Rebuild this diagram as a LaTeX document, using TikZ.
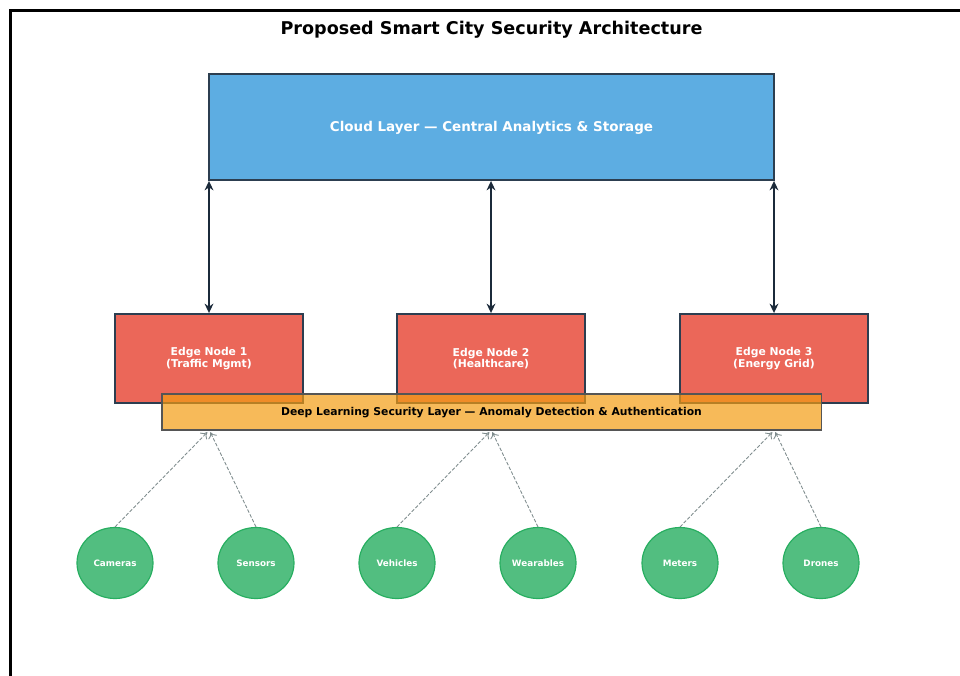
\documentclass[tikz,border=0pt]{standalone}
\usepackage{fontspec}
\setmainfont{DejaVu Sans}
\usepackage{tikz}
\usetikzlibrary{arrows.meta,shapes.geometric}
\definecolor{scnavy}{HTML}{2C3E50}
\definecolor{scdark}{HTML}{1B2A3A}
\definecolor{scblue}{HTML}{3498DB}
\definecolor{scred}{HTML}{E74C3C}
\definecolor{scorange}{HTML}{F39C12}
\definecolor{scgreen}{HTML}{27AE60}
\definecolor{scgray}{HTML}{7F8C8D}
\definecolor{scborder}{HTML}{555555}
\tikzstyle{cloudarrow} = [line width=1.3pt,{Stealth[length=8pt,width=7.5pt,inset=2.5pt]}-{Stealth[length=8pt,width=7.5pt,inset=2.5pt]},color=scdark]
\tikzstyle{sensorarrow} = [line width=0.75pt,dashed,dash pattern=on 3pt off 1.5pt,-{To[length=5pt,width=8pt]},color=scgray]
\tikzstyle{cloudbox} = [rectangle, draw=scnavy, line width=1.6pt, fill=scblue!80, minimum width=16.95cm, minimum height=3.18cm, text=white, text depth=0.5pt, font=\fontsize{11.5}{13}\selectfont\bfseries]
\tikzstyle{edgebox} = [rectangle, draw=scnavy, line width=1.6pt, fill=scred!85, minimum width=5.64cm, minimum height=2.67cm, text=white, align=center, font=\fontsize{9.2}{9.8}\selectfont\bfseries]
\tikzstyle{securitylayer} = [rectangle, draw=scborder, line width=0.9pt, fill=scorange, fill opacity=0.7, draw opacity=1, text opacity=1, minimum width=19.77cm, minimum height=1.08cm, text depth=0.5pt, font=\fontsize{9.2}{10}\selectfont\bfseries]
\tikzstyle{device} = [ellipse, draw=scgreen, line width=1pt, fill=scgreen!80, minimum width=2.28cm, minimum height=2.13cm, inner sep=0pt, text=white, font=\fontsize{7.5}{8}\selectfont\bfseries]

\begin{document}
\begin{tikzpicture}[x=0.03cm, y=-0.03cm]
    \useasboundingbox (0,0) rectangle (960,675);
    % Frame
    \draw[line width=1.8pt] (10.5,680) -- (10.5,10.5) -- (965,10.5);

    % Title
    \node[font=\fontsize{15}{18}\selectfont\bfseries] (title) at (491.5,29.5) {Proposed Smart City Security Architecture};

    % Cloud
    \node[cloudbox] (cloud) at (491.5,127) {Cloud Layer --- Central Analytics \& Storage};

    % Edge nodes
    \node[edgebox] (edge1) at (209,358.5) {Edge Node 1\\(Traffic Mgmt)};
    \node[edgebox] (edge2) at (491,358.5) {Edge Node 2\\(Healthcare)};
    \node[edgebox] (edge3) at (774,358.5) {Edge Node 3\\(Energy Grid)};

    % Security layer
    \node[securitylayer] (layer) at (491.5,412) {Deep Learning Security Layer --- Anomaly Detection \& Authentication};

    % Devices
    \node[device] (cameras) at (115,563) {Cameras};
    \node[device] (sensors) at (256,563) {Sensors};
    \node[device] (vehicles) at (397,563) {Vehicles};
    \node[device] (wearables) at (538,563) {Wearables};
    \node[device] (meters) at (680,563) {Meters};
    \node[device] (drones) at (821,563) {Drones};

    % Cloud <-> edge
    \draw[cloudarrow] (cloud.south -| edge1) -- (edge1.north);
    \draw[cloudarrow] (cloud.south -| edge2) -- (edge2.north);
    \draw[cloudarrow] (cloud.south -| edge3) -- (edge3.north);

    % Devices -> security layer
    \coordinate (in1) at (edge1 |- layer.south);
    \coordinate (in2) at (edge2 |- layer.south);
    \coordinate (in3) at (edge3 |- layer.south);
    \draw[sensorarrow] (cameras.north) -- ([xshift=-0.05cm,yshift=-0.05cm]in1);
    \draw[sensorarrow] (sensors.north) -- ([xshift=0.04cm,yshift=-0.05cm]in1);
    \draw[sensorarrow] (vehicles.north) -- ([xshift=-0.05cm,yshift=-0.05cm]in2);
    \draw[sensorarrow] (wearables.north) -- ([xshift=0.04cm,yshift=-0.05cm]in2);
    \draw[sensorarrow] (meters.north) -- ([xshift=-0.05cm,yshift=-0.05cm]in3);
    \draw[sensorarrow] (drones.north) -- ([xshift=0.04cm,yshift=-0.05cm]in3);
\end{tikzpicture}
\end{document}
